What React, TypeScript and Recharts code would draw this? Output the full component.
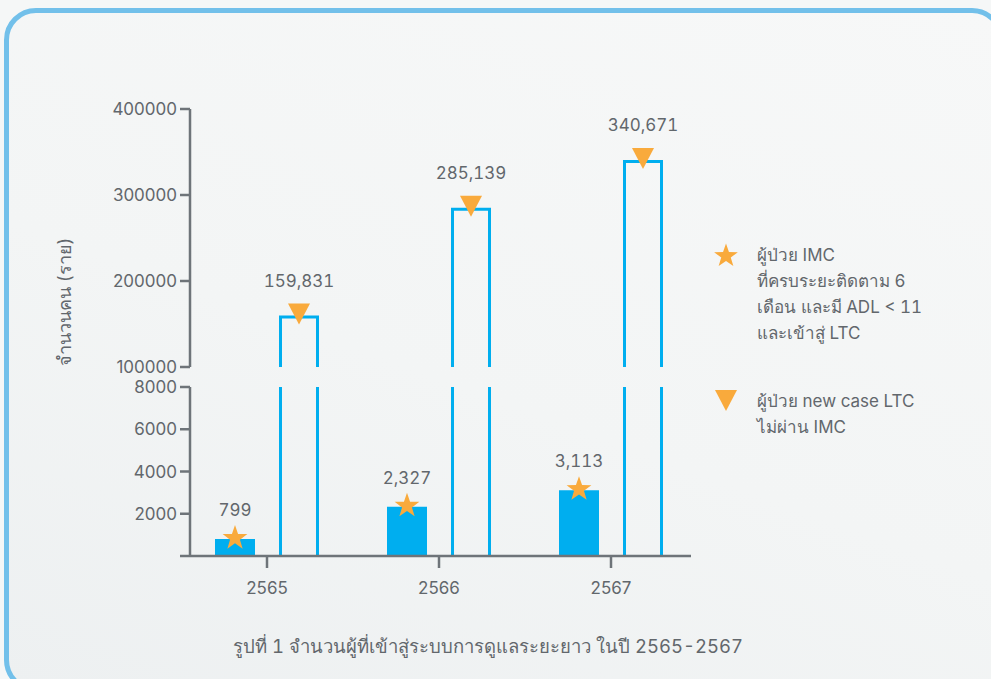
import React from "react";
import { BarChart, Bar, XAxis, YAxis, LabelList } from "recharts";

const years = ["2565", "2566", "2567"];
const imcPatients = [799, 2327, 3113];
const newCaseLtc = [159831, 285139, 340671];
const upperTicks = [100000, 200000, 300000, 400000];
const lowerTicks = [0, 2000, 4000, 6000, 8000];

const legendImc = ["ผู้ป่วย IMC", "ที่ครบระยะติดตาม 6", "เดือน และมี ADL < 11", "และเข้าสู่ LTC"];
const legendLtc = ["ผู้ป่วย new case LTC", "ไม่ผ่าน IMC"];
const axisTitle = "จำนวนคน (ราย)";
const caption = "รูปที่ 1 จำนวนผู้ที่เข้าสู่ระบบการดูแลระยะยาว ในปี 2565-2567";

const data = years.map((year, i) => ({ year, imc: imcPatients[i], ltc: newCaseLtc[i] }));

const W = 991;
const H = 679;
const FONT = "Inter, 'Noto Sans', sans-serif";
const BLUE = "#00aeef";
const ORANGE = "#f9aa3c";
const AXIS = "#6e7479";
const TEXT = "#62676c";

// plot frame shared by both halves of the broken axis
const PLOT_LEFT = 190;
const PLOT_RIGHT = 691;
const AXIS_W = 80;
const UPPER_TOP = 109;
const UPPER_BOTTOM = 367;
const LOWER_TOP = 387;
const LOWER_BOTTOM = 556;
const X_AXIS_H = 40;
const X_PAD = { left: -9, right: -6 };

const fmt = (v: number) => v.toLocaleString("en-US");

function starPath(cx: number, cy: number, R: number) {
  const r = R * 0.4;
  let d = "";
  for (let k = 0; k < 10; k++) {
    const rad = k % 2 === 0 ? R : r;
    const a = -Math.PI / 2 + (k * Math.PI) / 5;
    d += (k ? "L" : "M") + (cx + rad * Math.cos(a)).toFixed(2) + "," + (cy + rad * Math.sin(a)).toFixed(2);
  }
  return d + "Z";
}

function trianglePath(cx: number, cy: number) {
  return `M${cx - 11},${cy - 12}L${cx + 11},${cy - 12}L${cx},${cy + 9}Z`;
}

// open-bottomed outline: two sides and a lid, the part below the break is clipped
// eslint-disable-next-line @typescript-eslint/no-explicit-any
function OutlineBar({ x, y, width, height }: any) {
  if (!width || !height) return null;
  const l = x + 1.5;
  const r = x + width - 1.5;
  const t = y + 1.5;
  const b = y + height;
  return (
    <path
      d={`M${l},${b}L${l},${t}L${r},${t}L${r},${b}`}
      fill="none"
      stroke={BLUE}
      strokeWidth={3}
    />
  );
}

const Nothing = () => <g />;

// eslint-disable-next-line @typescript-eslint/no-explicit-any
function rectOf(props: any) {
  const vb = props.viewBox && props.viewBox.width !== undefined ? props.viewBox : props;
  return { x: Number(vb.x), y: Number(vb.y), width: Number(vb.width) };
}

const valueText = {
  fontFamily: FONT,
  fontSize: 17,
  fill: TEXT,
  style: { fontVariantNumeric: "tabular-nums" },
};

// eslint-disable-next-line @typescript-eslint/no-explicit-any
function StarLabel(props: any) {
  const { x, y, width } = rectOf(props);
  const cx = x + width / 2;
  return (
    <g>
      <path d={starPath(cx, y - 1, 13)} fill={ORANGE} />
      <text x={cx} y={y - 29} textAnchor="middle" dominantBaseline="central" {...valueText}>
        {fmt(Number(props.value))}
      </text>
    </g>
  );
}

// eslint-disable-next-line @typescript-eslint/no-explicit-any
function TriangleLabel(props: any) {
  const { x, y, width } = rectOf(props);
  const cx = x + width / 2;
  return (
    <g>
      <path d={trianglePath(cx, y)} fill={ORANGE} />
      <text x={cx} y={y - 35} textAnchor="middle" dominantBaseline="central" {...valueText}>
        {fmt(Number(props.value))}
      </text>
    </g>
  );
}

// eslint-disable-next-line @typescript-eslint/no-explicit-any
function AxisTitle(props: any) {
  const vb = props.viewBox || {};
  const cx = vb.x - 46;
  const cy = vb.y + vb.height / 2 + 64;
  return (
    <text x={cx} y={cy} transform={`rotate(-90 ${cx} ${cy})`} textAnchor="middle"
      dominantBaseline="central" fontFamily={FONT} fontSize={18} fill={TEXT}>
      {axisTitle}
    </text>
  );
}

const tickStyle = { fontFamily: FONT, fontSize: 17, fill: TEXT };
const axisLine = { stroke: AXIS, strokeWidth: 2.5 };

function UpperChart() {
  return (
    <BarChart
      width={W}
      height={H}
      data={data}
      barSize={40}
      barGap={24}
      margin={{ top: UPPER_TOP, right: W - PLOT_RIGHT, bottom: H - UPPER_BOTTOM, left: PLOT_LEFT - AXIS_W }}
    >
      <XAxis dataKey="year" hide padding={X_PAD} />
      <YAxis
        width={AXIS_W}
        domain={[100000, 400000]}
        ticks={upperTicks}
        allowDataOverflow
        axisLine={axisLine}
        tickLine={axisLine}
        tickSize={10}
        tickMargin={3}
        tick={tickStyle}
        label={AxisTitle}
      />
      <Bar dataKey="imc" shape={Nothing} isAnimationActive={false} />
      <Bar dataKey="ltc" shape={OutlineBar} isAnimationActive={false}>
        <LabelList dataKey="ltc" content={TriangleLabel} />
      </Bar>
    </BarChart>
  );
}

function LowerChart() {
  return (
    <BarChart
      width={W}
      height={H}
      data={data}
      barSize={40}
      barGap={24}
      margin={{ top: LOWER_TOP, right: W - PLOT_RIGHT, bottom: H - LOWER_BOTTOM - X_AXIS_H, left: PLOT_LEFT - AXIS_W }}
    >
      <XAxis
        dataKey="year"
        height={X_AXIS_H}
        padding={X_PAD}
        axisLine={axisLine}
        tickLine={axisLine}
        tickSize={12}
        tickMargin={14}
        tick={tickStyle}
      />
      <YAxis
        width={AXIS_W}
        domain={[0, 8000]}
        ticks={lowerTicks}
        allowDataOverflow
        axisLine={axisLine}
        tickLine={axisLine}
        tickSize={10}
        tickMargin={3}
        tick={tickStyle}
        tickFormatter={(v: number) => (v === 0 ? "" : String(v))}
      />
      <Bar dataKey="imc" fill={BLUE} isAnimationActive={false}>
        <LabelList dataKey="imc" content={StarLabel} />
      </Bar>
      <Bar dataKey="ltc" shape={OutlineBar} isAnimationActive={false} />
    </BarChart>
  );
}

function LegendBlock({ top, lines, marker }: { top: number; lines: string[]; marker: "star" | "triangle" }) {
  return (
    <div style={{ position: "absolute", left: 712, top, display: "flex" }}>
      <svg width={30} height={26} style={{ flex: "none" }}>
        {marker === "star"
          ? <path d={starPath(14, 14, 12.5)} fill={ORANGE} />
          : <path d={trianglePath(14, 14)} fill={ORANGE} />}
      </svg>
      <div style={{
        marginLeft: 15, fontFamily: FONT, fontSize: 17, lineHeight: "26px", color: TEXT,
        fontVariantNumeric: "tabular-nums",
      }}>
        {lines.map((s) => <div key={s}>{s}</div>)}
      </div>
    </div>
  );
}

export default function App() {
  return (
    <div style={{ position: "absolute", left: 0, top: 0, width: W, height: H, overflow: "hidden", background: "#f5f7f7" }}>
      <div
        style={{
          position: "absolute", left: 4, top: 8, width: 1000, height: 684,
          boxSizing: "border-box", border: "5px solid #72c0ea", borderRadius: 32,
          background: "linear-gradient(200deg, #f7f8f8 0%, #f3f5f5 55%, #edf0f1 100%)",
        }}
      />
      <div style={{ position: "absolute", left: 0, top: 0 }}><UpperChart /></div>
      <div style={{ position: "absolute", left: 0, top: 0 }}><LowerChart /></div>
      <LegendBlock top={242} lines={legendImc} marker="star" />
      <LegendBlock top={388} lines={legendLtc} marker="triangle" />
      <div style={{
        position: "absolute", left: 0, width: 976, top: 632, textAlign: "center",
        fontFamily: FONT, fontSize: 18.5, color: TEXT, fontVariantNumeric: "tabular-nums",
      }}>
        {caption}
      </div>
    </div>
  );
}
